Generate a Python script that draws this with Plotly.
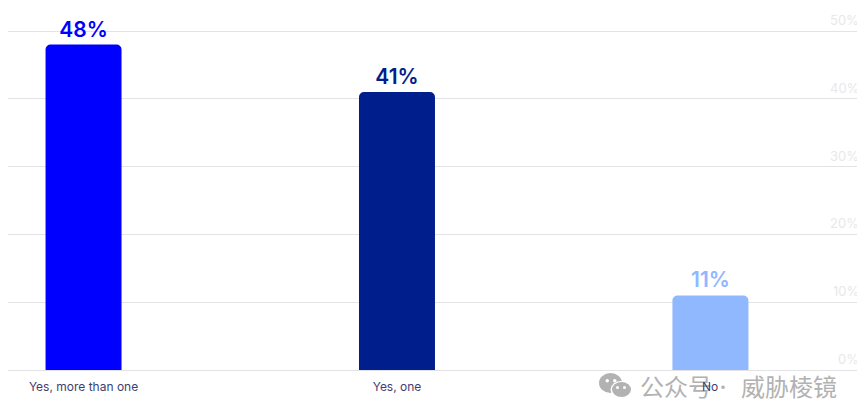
import plotly.graph_objects as go

categories = ["Yes, more than one", "Yes, one", "No"]
values = [48, 41, 11]
value_labels = ["48%", "41%", "11%"]
bar_colors = ["#0000ff", "#001e8c", "#8fb8ff"]
y_ticks = [0, 10, 20, 30, 40, 50]
y_tick_labels = ["0%", "10%", "20%", "30%", "40%", "50%"]

FONT = "Inter, Roboto, sans-serif"
# the page puts the figure 8px in from the top-left corner
OFF = 8
W, H = 865 - OFF, 420 - OFF
M_L, M_R, M_T, M_B = 0, 6, 21, 50
PW, PH = W - M_L - M_R, H - M_T - M_B


# page pixels -> paper fractions (paper spans the plot area)
def fx(x):
    return (x - OFF - M_L) / PW


def fy(y):
    return 1 - (y - OFF - M_T) / PH


fig = go.Figure(go.Bar(
    x=categories, y=values, width=0.2424,
    marker=dict(color=bar_colors, cornerradius=5, line=dict(width=0)),
    text=value_labels, textposition="outside", cliponaxis=False,
    textfont=dict(family=FONT, size=21, color=bar_colors, weight=600),
    hoverinfo="skip",
))

annotations = [
    dict(xref="paper", yref="y", x=1, y=v, text=t, showarrow=False,
         xanchor="right", yanchor="bottom", yshift=1, xshift=2,
         font=dict(family=FONT, size=13, color="#e8e8ea"))
    for v, t in zip(y_ticks, y_tick_labels)
]
WM = dict(family="Noto Sans CJK SC", size=24, color="#b2b2b2")
annotations.append(dict(xref="paper", yref="paper", x=fx(638), y=fy(385), text="公众号",
                        showarrow=False, xanchor="left", yanchor="middle", font=WM))
annotations.append(dict(xref="paper", yref="paper", x=fx(739), y=fy(385), text="威胁棱镜",
                        showarrow=False, xanchor="left", yanchor="middle", font=WM))
annotations.append(dict(xref="paper", yref="paper", x=fx(723), y=fy(386), text="·",
                        showarrow=False, xanchor="center", yanchor="middle",
                        font=dict(family="Noto Sans CJK SC", size=16, color="#b2b2b2")))
# last category label sits on top of the watermark
annotations.append(dict(xref="x", yref="paper", x=categories[2], y=fy(386), text=categories[2],
                        showarrow=False, xanchor="center", yanchor="middle",
                        font=dict(family=FONT, size=12, color="#3f3d72")))


def px_ellipse(x0, y0, x1, y1, color):
    return dict(type="circle", xref="paper", yref="paper", layer="above",
                x0=fx(x0), x1=fx(x1), y0=fy(y1), y1=fy(y0),
                fillcolor=color, line=dict(width=0))


# WeChat-style watermark icon
shapes = [
    px_ellipse(599, 373, 622, 393, "#b2b2b2"),
    px_ellipse(605.5, 379, 609, 382.5, "#ffffff"),
    px_ellipse(613, 379, 616.5, 382.5, "#ffffff"),
    px_ellipse(610.5, 381, 632, 398, "#ffffff"),
    px_ellipse(612, 382, 631, 397, "#b2b2b2"),
    px_ellipse(616, 386, 619, 389, "#ffffff"),
    px_ellipse(623, 386, 626, 389, "#ffffff"),
]

fig.update_layout(
    width=W, height=H, showlegend=False,
    margin=dict(l=M_L, r=M_R, t=M_T, b=M_B),
    paper_bgcolor="white", plot_bgcolor="white",
    font=dict(family=FONT),
    annotations=annotations, shapes=shapes,
    xaxis=dict(type="category", range=[-0.241, 2.474], showgrid=False, ticks="",
               showline=False, zeroline=False, ticklabelstandoff=8,
               tickmode="array", tickvals=categories[:2], ticktext=categories[:2],
               tickfont=dict(family=FONT, size=12, color="#3f3d72")),
    yaxis=dict(range=[0, 50.3], tickvals=y_ticks, showticklabels=False, ticks="",
               showgrid=True, gridcolor="#e3e3e6", gridwidth=1,
               zeroline=True, zerolinecolor="#e3e3e6", zerolinewidth=1, showline=False),
)
fig.write_html("out.html")
